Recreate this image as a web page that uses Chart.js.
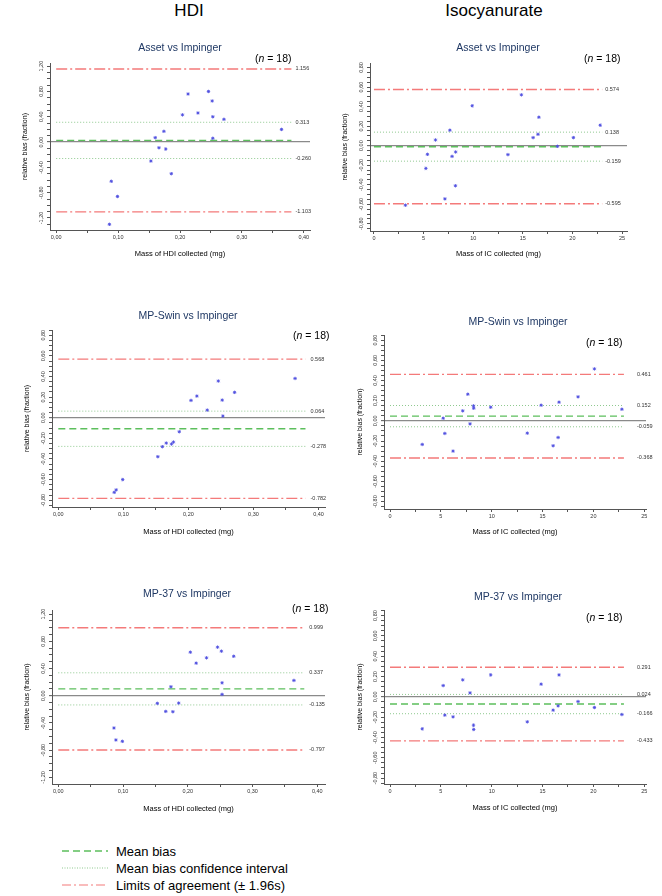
<!DOCTYPE html>
<html>
<head>
<meta charset="utf-8">
<script src="https://cdn.jsdelivr.net/npm/chart.js@4.4.1/dist/chart.umd.min.js"></script>
<style>
  body { margin: 0; background: #fff; width: 662px; height: 896px; position: relative; overflow: hidden;
         font-family: "Liberation Sans", Arial, sans-serif; }
  .abs { position: absolute; white-space: nowrap; }
  .head { font-size: 17px; color: #000; transform: translate(-50%, -50%); }
  .ptitle { font-size: 10.5px; color: #1f3864; transform: translate(-50%, -50%); }
  .n { font-size: 10.5px; color: #000; transform: translateY(-50%); }
  .leg { font-size: 13px; color: #000; transform: translateY(-50%); }
  canvas { position: absolute; }
</style>
</head>
<body>
<script>
// mass collected (x) - same samples for every sampler
const hdiMass = [0.086, 0.089, 0.099, 0.153, 0.160, 0.166, 0.174, 0.177, 0.186, 0.204, 0.213, 0.229, 0.246, 0.252, 0.253, 0.253, 0.271, 0.364];
const icMass = [3.17, 5.23, 5.39, 6.20, 7.15, 7.65, 7.87, 8.21, 8.23, 9.90, 13.50, 14.86, 16.04, 16.53, 16.62, 18.49, 20.10, 22.80];

// relative bias (fraction), null = not shown
const assetHdiBias = [-1.30, -0.62, -0.86, -0.30, 0.07, -0.09, 0.17, -0.11, -0.50, 0.43, 0.76, 0.46, 0.80, 0.65, 0.40, 0.06, 0.36, 0.20];
const swinHdiBias = [-0.724, -0.70, -0.60, -0.378, -0.281, -0.246, -0.255, -0.236, -0.136, 0.168, 0.21, 0.074, 0.356, 0.171, 0.016, null, 0.246, 0.381];
const mp37HdiBias = [-0.474, -0.65, -0.67, -0.112, null, -0.23, 0.132, -0.235, -0.108, 0.64, 0.479, 0.557, 0.714, 0.655, 0.19, 0.02, 0.58, 0.225];
const assetIcBias = [-0.61, -0.233, -0.089, 0.058, -0.545, 0.158, -0.11, -0.411, -0.065, 0.408, -0.092, 0.52, 0.082, 0.116, 0.291, -0.007, 0.082, 0.209];
const swinIcBias = [-0.234, 0.026, -0.125, -0.30, 0.099, 0.264, -0.03, 0.148, 0.125, 0.135, -0.122, 0.155, -0.247, -0.165, 0.185, 0.238, 0.515, 0.115];
const mp37IcBias = [-0.315, 0.111, -0.18, -0.197, 0.167, null, 0.039, -0.279, -0.321, 0.216, -0.246, 0.125, -0.131, -0.089, 0.216, -0.046, -0.105, -0.174];

// [upper LoA, upper CI, mean bias, lower CI, lower LoA]
const assetHdiStats = [1.156, 0.313, 0.027, -0.260, -1.103];
const swinHdiStats = [0.568, 0.064, -0.107, -0.278, -0.782];
const mp37HdiStats = [0.999, 0.337, 0.101, -0.135, -0.797];
const assetIcStats = [0.574, 0.138, -0.011, -0.159, -0.595];
const swinIcStats = [0.461, 0.152, 0.047, -0.059, -0.368];
const mp37IcStats = [0.291, 0.024, -0.071, -0.166, -0.433];

const columnHeads = ['HDI', 'Isocyanurate'];
const plotTitles = ['Asset vs Impinger', 'MP-Swin vs Impinger', 'MP-37 vs Impinger'];
const xTitles = ['Mass of HDI collected (mg)', 'Mass of IC collected (mg)'];
const yTitle = 'relative bias (fraction)';
const legendLabels = ['Mean bias', 'Mean bias confidence interval', 'Limits of agreement (\u00b1 1.96s)'];

const FONT = '"Liberation Sans", Arial, sans-serif';
const RED = '#f47a7a', GREEN = '#5cbf5c', DOT = '#8fc98f', BLUE = '#5050e0';
const LOA_DASH = [11, 3, 2, 3], MEAN_DASH = [7, 4], CI_DASH = [1, 2];

const comma = (v, d) => v.toFixed(d).replace('.', ',');
const isMult = (v, m) => Math.abs(v / m - Math.round(v / m)) < 1e-6;

const hdiAxis = { step: 0.05, major: 0.1, fmt: v => comma(v, 2), lineEnd: 0.38 };
const icAxis = { step: 2.5, major: 5, fmt: v => String(Math.round(v)), lineEnd: 23 };

const plots = [
  { x: hdiMass, y: assetHdiBias, s: assetHdiStats, ax: hdiAxis, xt: xTitles[0], title: plotTitles[0],
    area: [50, 63, 310, 230], xr: [-0.01, 0.41], yr: [-1.39, 1.25], yStep: 0.1, yMajor: 0.4,
    yTitleX: 25, xTitleY: 253, titlePos: [180, 47], nPos: [255, 58], gap: 4 },
  { x: hdiMass, y: swinHdiBias, s: swinHdiStats, ax: hdiAxis, xt: xTitles[0], title: plotTitles[1],
    area: [52, 330, 325, 507], xr: [-0.0097, 0.41], yr: [-0.866, 0.851], yStep: 0.05, yMajor: 0.2,
    yTitleX: 27, xTitleY: 531, titlePos: [188, 315], nPos: [293, 335], gap: 5 },
  { x: hdiMass, y: mp37HdiBias, s: mp37HdiStats, ax: hdiAxis, xt: xTitles[0], title: plotTitles[2],
    area: [52, 610, 325, 784], xr: [-0.0097, 0.412], yr: [-1.297, 1.26], yStep: 0.1, yMajor: 0.4,
    yTitleX: 27, xTitleY: 808, titlePos: [187, 593], nPos: [292, 608], gap: 5 },
  { x: icMass, y: assetIcBias, s: assetIcStats, ax: icAxis, xt: xTitles[1], title: plotTitles[0],
    area: [370, 63, 627, 231], xr: [-0.4, 25.5], yr: [-0.874, 0.846], yStep: 0.05, yMajor: 0.2,
    yTitleX: 345, xTitleY: 253, titlePos: [498, 47], nPos: [584, 58], gap: 3 },
  { x: icMass, y: swinIcBias, s: swinIcStats, ax: icAxis, xt: xTitles[1], title: plotTitles[1],
    area: [384, 335, 646, 509], xr: [-0.59, 25.17], yr: [-0.874, 0.851], yStep: 0.05, yMajor: 0.2,
    yTitleX: 360, xTitleY: 531, titlePos: [518, 321], nPos: [586, 342], gap: 13 },
  { x: icMass, y: mp37IcBias, s: mp37IcStats, ax: icAxis, xt: xTitles[1], title: plotTitles[2],
    area: [384, 610, 646, 784], xr: [-0.59, 25.17], yr: [-0.858, 0.855], yStep: 0.05, yMajor: 0.2,
    yTitleX: 360, xTitleY: 807, titlePos: [518, 596], nPos: [586, 617], gap: 13 }
];

function addText(cls, html, left, top) {
  const d = document.createElement('div');
  d.className = 'abs ' + cls;
  d.innerHTML = html;
  d.style.left = left + 'px';
  d.style.top = top + 'px';
  document.body.appendChild(d);
}

// y tick labels (rotated) and the values written next to the reference lines
const annotPlugin = {
  id: 'annot',
  afterDraw(chart, args, opts) {
    const { ctx } = chart;
    const xs = chart.scales.x, ys = chart.scales.y;
    ctx.save();
    ctx.fillStyle = '#333';
    ctx.font = '5.5px ' + FONT;
    ctx.textAlign = 'center';
    ctx.textBaseline = 'middle';
    ys.ticks.forEach(t => {
      if (!isMult(t.value, opts.yMajor)) return;
      ctx.save();
      ctx.translate(ys.right - 8.5, ys.getPixelForValue(t.value));
      ctx.rotate(-Math.PI / 2);
      ctx.fillText(comma(t.value, 2), 0, 0);
      ctx.restore();
    });
    ctx.textAlign = 'left';
    const lx = xs.getPixelForValue(opts.lineEnd) + opts.gap;
    [opts.stats[0], opts.stats[1], opts.stats[3], opts.stats[4]].forEach(v => {
      ctx.fillText(v.toFixed(3), lx, ys.getPixelForValue(v));
    });
    ctx.restore();
  }
};

function hline(v, end, color, width, dash) {
  return {
    type: 'line', data: [{ x: 0, y: v }, { x: end, y: v }], showLine: true,
    borderColor: color, borderWidth: width, borderDash: dash, pointRadius: 0, fill: false
  };
}

function makePlot(p) {
  const [L, T, R, B] = p.area;
  const yLh = 7 * 1.2, xLh = 7.5 * 1.2;
  const padT = 12, padR = Math.min(40, 662 - R);
  const cx = Math.round(p.yTitleX - yLh / 2);
  const cy = T - padT;
  const cw = R + padR - cx;
  const hx = Math.round(p.xTitleY + xLh / 2 - B);
  const ch = B + hx - cy;
  const wy = L - cx;

  const c = document.createElement('canvas');
  c.width = cw; c.height = ch;
  c.style.left = cx + 'px'; c.style.top = cy + 'px';
  c.style.width = cw + 'px'; c.style.height = ch + 'px';
  document.body.appendChild(c);

  const pts = [];
  p.x.forEach((v, i) => { if (p.y[i] !== null) pts.push({ x: v, y: p.y[i] }); });
  const end = p.ax.lineEnd;

  new Chart(c, {
    type: 'scatter',
    data: {
      datasets: [
        { data: pts, pointStyle: 'star', pointRadius: 1.7, borderColor: BLUE, backgroundColor: BLUE, borderWidth: 0.9 },
        hline(p.s[2], end, GREEN, 1.4, MEAN_DASH),
        hline(p.s[1], end, DOT, 1, CI_DASH),
        hline(p.s[3], end, DOT, 1, CI_DASH),
        hline(p.s[0], end, RED, 1.4, LOA_DASH),
        hline(p.s[4], end, RED, 1.4, LOA_DASH)
      ]
    },
    options: {
      responsive: false,
      animation: false,
      layout: { padding: { left: 0, top: padT, right: padR, bottom: 0 } },
      plugins: {
        legend: { display: false },
        tooltip: { enabled: false },
        annot: { stats: p.s, lineEnd: end, gap: p.gap, yMajor: p.yMajor }
      },
      scales: {
        x: {
          type: 'linear', min: p.xr[0], max: p.xr[1],
          afterFit: s => { s.height = hx; },
          border: { display: true, color: '#555', width: 1 },
          grid: { display: true, drawOnChartArea: false, drawTicks: true, tickLength: 3, tickColor: '#555', tickWidth: 1 },
          ticks: {
            stepSize: p.ax.step, includeBounds: false, autoSkip: false, maxRotation: 0, minRotation: 0,
            padding: 1.5, color: '#333', font: { size: 5.5, family: FONT },
            callback: v => isMult(v, p.ax.major) ? p.ax.fmt(v) : ''
          },
          title: { display: true, text: p.xt, color: '#000', font: { size: 7.5, family: FONT }, padding: 0 }
        },
        y: {
          type: 'linear', min: p.yr[0], max: p.yr[1],
          afterFit: s => { s.width = wy; },
          border: { display: true, color: '#555', width: 1 },
          grid: {
            display: true, drawOnChartArea: true, drawTicks: true, tickLength: 3, tickColor: '#555', tickWidth: 1,
            color: ctx => (ctx.tick && ctx.tick.value === 0) ? '#8a8a8a' : 'rgba(0,0,0,0)',
            lineWidth: ctx => (ctx.tick && ctx.tick.value === 0) ? 1.3 : 1
          },
          ticks: { stepSize: p.yStep, includeBounds: false, autoSkip: false, callback: () => '' },
          title: { display: true, text: yTitle, color: '#000', font: { size: 7, family: FONT }, padding: 0 }
        }
      }
    },
    plugins: [annotPlugin]
  });

  addText('ptitle', p.title, p.titlePos[0], p.titlePos[1]);
  addText('n', '(<i>n</i> = 18)', p.nPos[0], p.nPos[1]);
}

addText('head', columnHeads[0], 189, 11);
addText('head', columnHeads[1], 494, 11);
plots.forEach(makePlot);

// legend
const legStyles = [
  { color: GREEN, dash: '7 4', w: 1.5 },
  { color: DOT, dash: '1 1.5', w: 1 },
  { color: RED, dash: '9 3 2 3', w: 1.2 }
];
const legY = [851, 868, 885];
legendLabels.forEach((t, i) => {
  const st = legStyles[i];
  addText('leg', '<svg width="46" height="4" style="display:block"><line x1="0" y1="2" x2="46" y2="2" stroke="' +
    st.color + '" stroke-width="' + st.w + '" stroke-dasharray="' + st.dash + '"/></svg>', 62, legY[i]);
  addText('leg', t, 116, legY[i]);
});
</script>
</body>
</html>
